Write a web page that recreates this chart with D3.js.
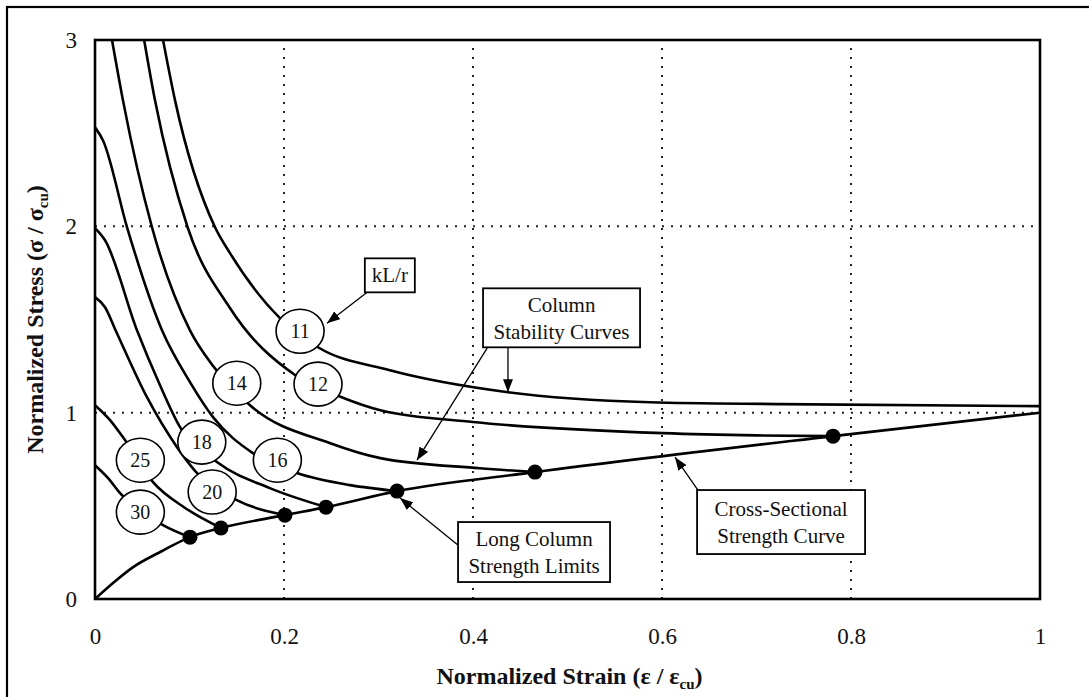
<!DOCTYPE html><meta charset="utf-8"><style>
    body { margin: 0; background: #fff; }
    svg { display: block; }
    svg text { font-family: "Liberation Serif", "Times New Roman", Times, serif; }
    .tick text { font-size: 23px; fill: #111; }
    .grid line { stroke: #222; stroke-width: 2; stroke-dasharray: 2,7; }
    .curve { fill: none; stroke: #000; stroke-width: 2.6; }
    .tag ellipse { fill: #fff; stroke: #000; stroke-width: 1.6; }
    .tag text { font-size: 20px; fill: #111; }
    .note text { font-size: 21px; fill: #111; }
    .note rect { fill: #fff; stroke: #000; stroke-width: 1.8; }
    .pointer { stroke: #000; stroke-width: 1.3; }
    .title { font-size: 24px; font-weight: bold; fill: #111; }
</style><svg width="1089" height="697"></svg><script src="https://cdn.jsdelivr.net/npm/d3@7"></script><script>

    var width = 1089, height = 697;

    // tick labels
    var strainTicks = [0, 0.2, 0.4, 0.6, 0.8, 1];
    var stressTicks = [0, 1, 2, 3];

    // slenderness ratios kL/r, one stability curve each
    var slenderness = [11, 12, 14, 16, 18, 20, 25, 30];

    // column stability curves, [strain, stress]
    var curve11 = [[0.072, 3.0], [0.0847, 2.676], [0.127, 1.995], [0.143, 1.855], [0.196, 1.506], [0.236, 1.351],
        [0.312, 1.228], [0.437, 1.110], [0.587, 1.056], [0.725, 1.046], [1.0, 1.035]];
    var curve12 = [[0.052, 3.0], [0.0635, 2.676], [0.098, 1.995], [0.143, 1.560], [0.212, 1.201], [0.261, 1.083],
        [0.302, 1.013], [0.4, 0.95], [0.601, 0.890], [0.70, 0.878], [0.781, 0.874]];
    var curve14 = [[0.018, 3.0], [0.0296, 2.676], [0.0603, 1.995], [0.1005, 1.442], [0.125, 1.25], [0.164, 1.040],
        [0.249, 0.836], [0.302, 0.756], [0.407, 0.702], [0.4656, 0.681]];
    var curve16 = [[0, 2.531], [0.0085, 2.461], [0.0339, 1.995], [0.0709, 1.442], [0.1005, 1.164], [0.1249, 0.976],
        [0.167, 0.783], [0.2138, 0.676], [0.27, 0.611], [0.3196, 0.579]];
    var curve18 = [[0, 1.99], [0.0106, 1.925], [0.0444, 1.442], [0.0688, 1.147], [0.09, 0.922], [0.129, 0.735],
        [0.185, 0.595], [0.2444, 0.493]];
    var curve20 = [[0, 1.62], [0.0106, 1.566], [0.022, 1.44], [0.055, 1.083], [0.0868, 0.815], [0.108, 0.676],
        [0.150, 0.531], [0.201, 0.450]];
    var curve25 = [[0, 1.04], [0.0159, 0.96], [0.0317, 0.853], [0.0614, 0.627], [0.095, 0.49], [0.1333, 0.381]];
    var curve30 = [[0, 0.718], [0.0138, 0.649], [0.0265, 0.568], [0.072, 0.397], [0.1005, 0.332]];

    // cross-sectional strength curve
    var crossSection = [[0, 0], [0.02, 0.09], [0.04, 0.17], [0.07, 0.255], [0.1005, 0.332], [0.1333, 0.381],
        [0.201, 0.450], [0.2444, 0.493], [0.3196, 0.579], [0.4656, 0.681], [0.781, 0.874], [1, 1]];

    // long column strength limits (end of each stability curve)
    var limits = [[0.1005, 0.332], [0.1333, 0.381], [0.201, 0.450], [0.2444, 0.493], [0.3196, 0.579],
        [0.4656, 0.681], [0.781, 0.874]];

    var curves = [curve11, curve12, curve14, curve16, curve18, curve20, curve25, curve30];

    // annotation anchors in data units
    var tagSpots = [[0.217, 1.437], [0.236, 1.153], [0.150, 1.158], [0.193, 0.745], [0.113, 0.842],
        [0.124, 0.574], [0.048, 0.745], [0.048, 0.466]];

    var notes = [
        {lines: ["kL/r"], at: [0.312, 1.737], w: 50, h: 34},
        {lines: ["Column", "Stability Curves"], at: [0.4937, 1.509], w: 157, h: 59},
        {lines: ["Long Column", "Strength Limits"], at: [0.4646, 0.252], w: 152, h: 60},
        {lines: ["Cross-Sectional", "Strength Curve"], at: [0.726, 0.413], w: 168, h: 64}
    ];

    var pointers = [
        [[0.288, 1.646], [0.2455, 1.48]],
        [[0.437, 1.351], [0.437, 1.11]],
        [[0.415, 1.346], [0.3407, 0.745]],
        [[0.384, 0.290], [0.3228, 0.5416]],
        [[0.638, 0.584], [0.6138, 0.761]]
    ];

    var margin = ({top: 40, right: 49, bottom: 98, left: 95});

    var x = d3.scaleLinear()
        .domain([0, 1])
        .range([margin.left, width - margin.right]);

    var y = d3.scaleLinear()
        .domain([0, 3])
        .range([height - margin.bottom, margin.top]);

    const svg = d3.select("svg")
        .attr("viewBox", [0, 0, width, height]);

    svg.append("defs").append("marker")
        .attr("id", "head")
        .attr("markerUnits", "userSpaceOnUse")
        .attr("markerWidth", 14).attr("markerHeight", 10)
        .attr("refX", 13).attr("refY", 5)
        .attr("orient", "auto")
        .append("path")
        .attr("d", "M0,0L13,5L0,10Z")
        .attr("fill", "#000");

    // outer page frame
    svg.append("rect")
        .attr("x", 7).attr("y", 7)
        .attr("width", width + 20).attr("height", height + 20)
        .attr("fill", "none").attr("stroke", "#000").attr("stroke-width", 2.2);

    // dotted grid
    var grid = svg.append("g").attr("class", "grid");
    grid.selectAll(".gx")
        .data(strainTicks.filter(d => d > 0 && d < 1))
        .join("line")
        .attr("x1", d => x(d)).attr("x2", d => x(d))
        .attr("y1", y(0)).attr("y2", y(3));
    grid.selectAll(".gy")
        .data(stressTicks.filter(d => d > 0 && d < 3))
        .join("line")
        .attr("class", "gy")
        .attr("y1", d => y(d)).attr("y2", d => y(d))
        .attr("x1", x(0)).attr("x2", x(1));

    var line = d3.line()
        .x(d => x(d[0]))
        .y(d => y(d[1]))
        .curve(d3.curveMonotoneX);

    svg.append("g")
        .selectAll("path")
        .data(curves.concat([crossSection]))
        .join("path")
        .attr("class", "curve")
        .attr("d", line);

    svg.append("g")
        .selectAll("circle")
        .data(limits)
        .join("circle")
        .attr("cx", d => x(d[0]))
        .attr("cy", d => y(d[1]))
        .attr("r", 7.5)
        .attr("fill", "#000");

    // kL/r tags
    var tag = svg.append("g")
        .selectAll("g")
        .data(slenderness)
        .join("g")
        .attr("class", "tag")
        .attr("transform", (d, i) => `translate(${x(tagSpots[i][0])},${y(tagSpots[i][1])})`);
    tag.append("ellipse").attr("rx", 24).attr("ry", 22);
    tag.append("text")
        .attr("text-anchor", "middle")
        .attr("dy", 7)
        .text(d => d);

    // pointer arrows
    svg.append("g")
        .selectAll("line")
        .data(pointers)
        .join("line")
        .attr("class", "pointer")
        .attr("x1", d => x(d[0][0])).attr("y1", d => y(d[0][1]))
        .attr("x2", d => x(d[1][0])).attr("y2", d => y(d[1][1]))
        .attr("marker-end", "url(#head)");

    // note boxes
    var note = svg.append("g")
        .selectAll("g")
        .data(notes)
        .join("g")
        .attr("class", "note")
        .attr("transform", d => `translate(${x(d.at[0])},${y(d.at[1])})`);
    note.append("rect")
        .attr("x", d => -d.w / 2).attr("y", d => -d.h / 2)
        .attr("width", d => d.w).attr("height", d => d.h);
    note.each(function(d) {
        var n = d.lines.length;
        d3.select(this).selectAll("text")
            .data(d.lines)
            .join("text")
            .attr("text-anchor", "middle")
            .attr("y", (t, i) => n === 1 ? 7 : (i === 0 ? -6 : 21))
            .text(t => t);
    });

    // axes
    svg.append("g")
        .attr("transform", `translate(0,${y(0)})`)
        .call(d3.axisBottom(x).tickValues(strainTicks).tickSize(0).tickPadding(29).tickFormat(d => d))
        .call(g => g.select(".domain").remove())
        .attr("font-family", null).attr("font-size", null);

    svg.append("g")
        .attr("transform", `translate(${x(0)},0)`)
        .call(d3.axisLeft(y).tickValues(stressTicks).tickSize(0).tickPadding(18).tickFormat(d => d))
        .call(g => g.select(".domain").remove())
        .attr("font-family", null).attr("font-size", null);

    // plot frame
    svg.append("rect")
        .attr("x", x(0)).attr("y", y(3))
        .attr("width", x(1) - x(0)).attr("height", y(0) - y(3))
        .attr("fill", "none").attr("stroke", "#000").attr("stroke-width", 2.6);

    // axis titles
    var xt = svg.append("text")
        .attr("class", "title")
        .attr("text-anchor", "middle")
        .attr("transform", `translate(${(x(0) + x(1)) / 2 + 2},684)`);
    xt.append("tspan").text("Normalized Strain (\u03b5 / \u03b5");
    xt.append("tspan").attr("dy", 5).attr("font-size", 15).text("cu");
    xt.append("tspan").attr("dy", -5).text(")");

    var yt = svg.append("text")
        .attr("class", "title")
        .attr("text-anchor", "middle")
        .attr("transform", `translate(43,${(y(0) + y(3)) / 2}) rotate(-90)`);
    yt.append("tspan").text("Normalized Stress (\u03c3 / \u03c3");
    yt.append("tspan").attr("dy", 5).attr("font-size", 15).text("cu");
    yt.append("tspan").attr("dy", -5).text(")");

</script>
